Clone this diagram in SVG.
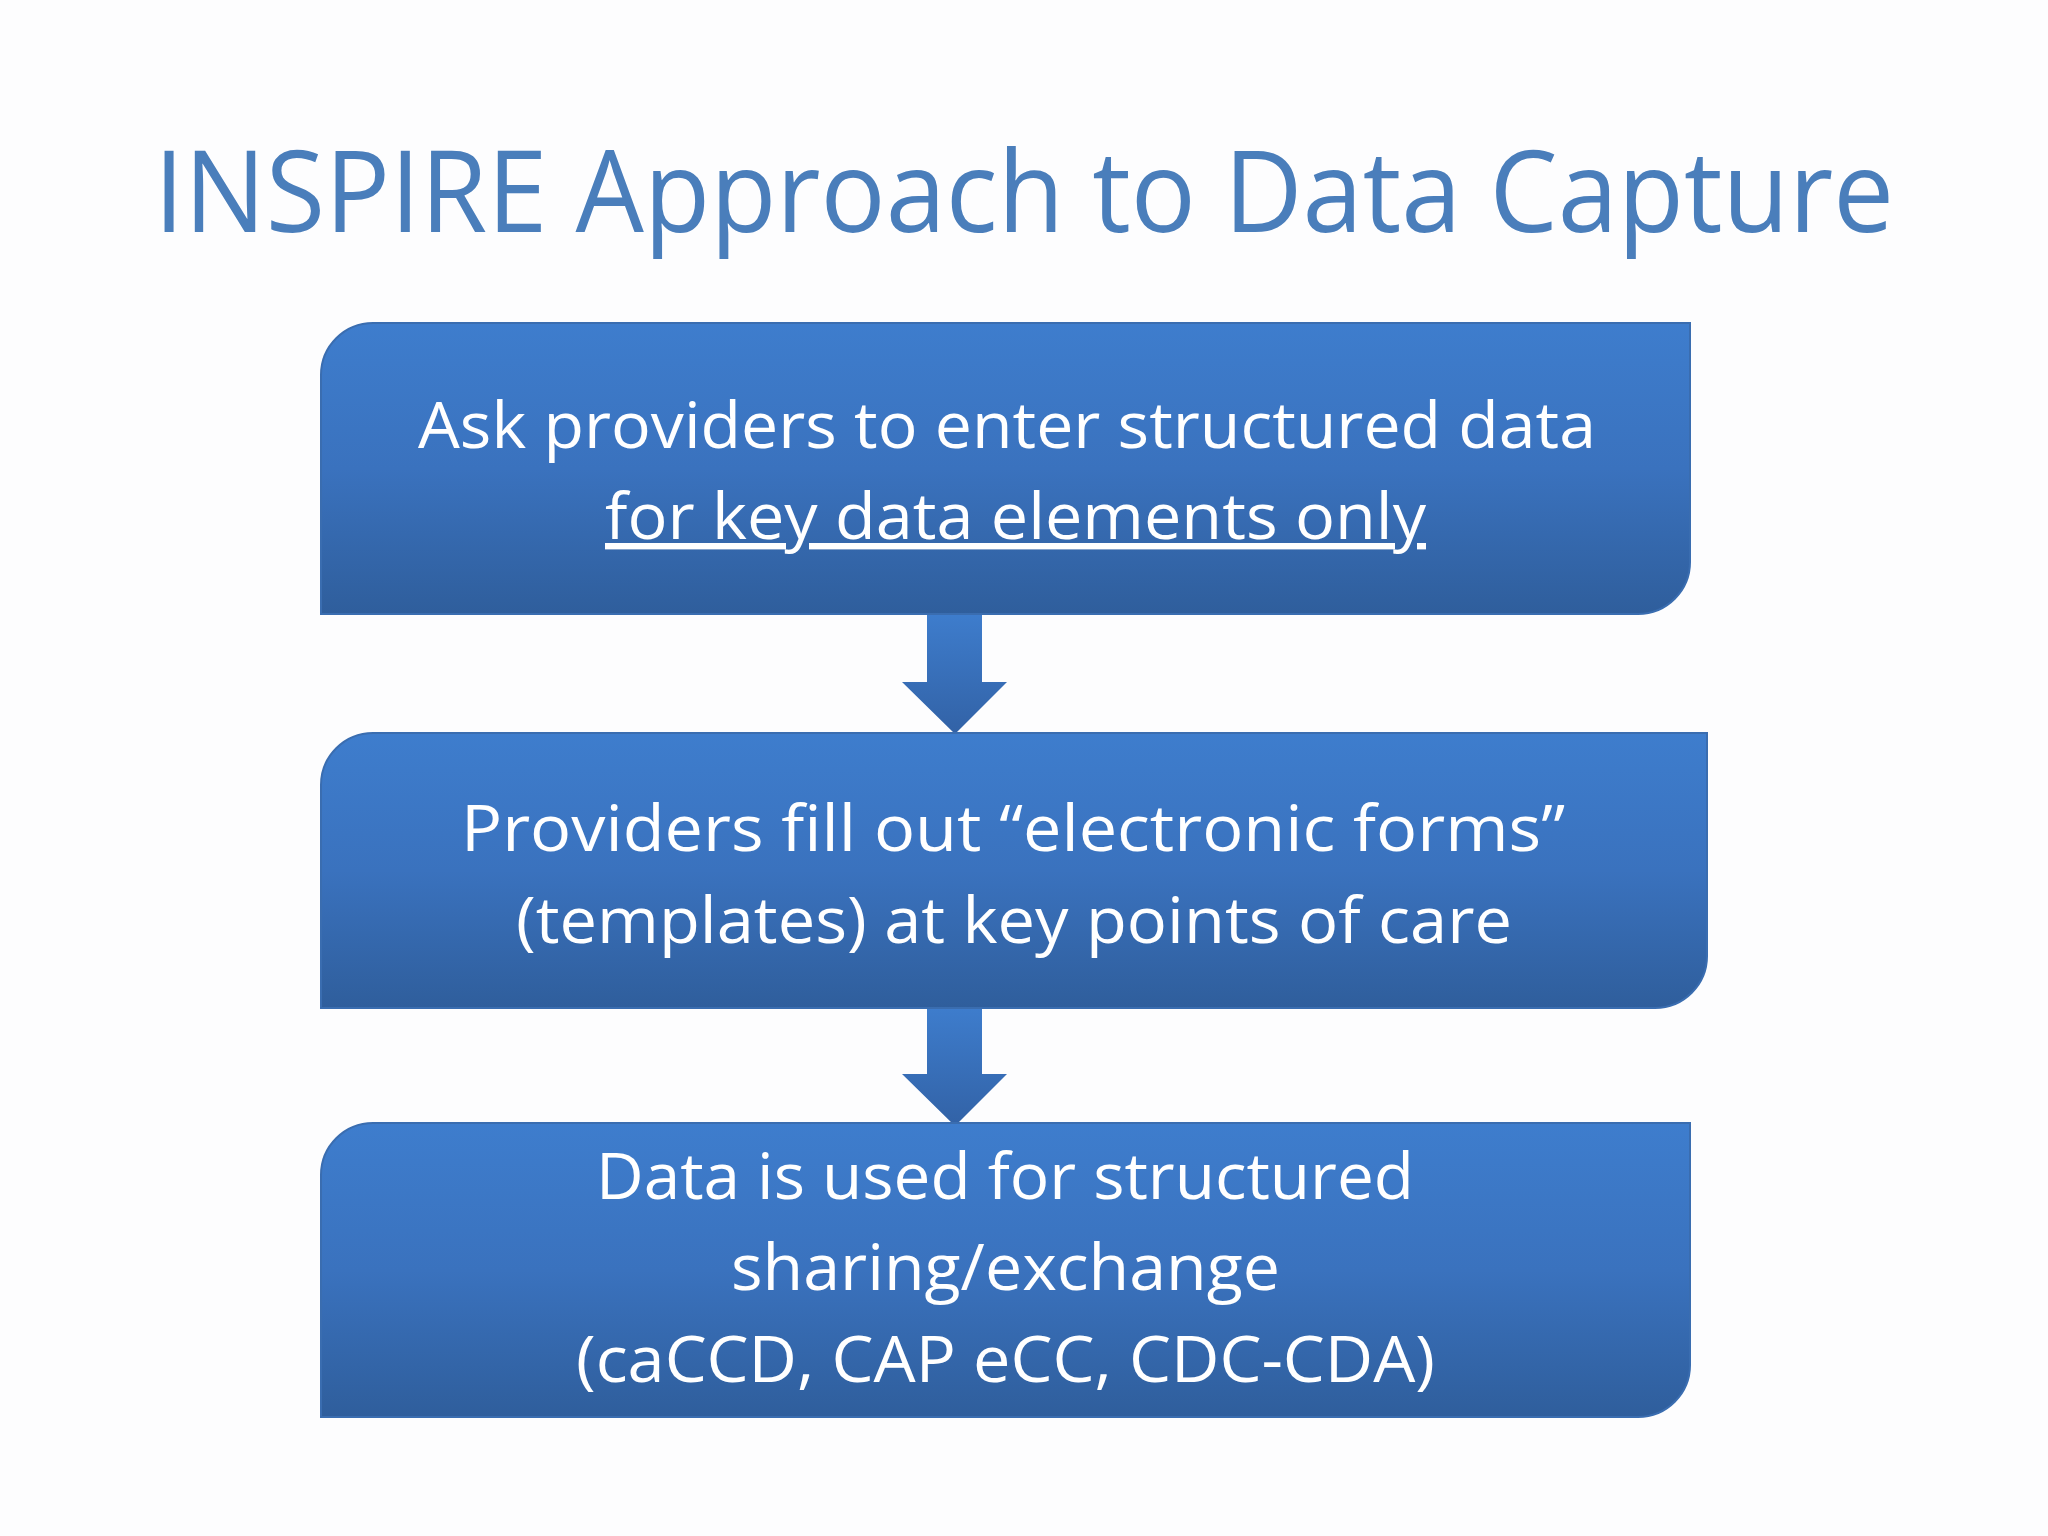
<svg xmlns="http://www.w3.org/2000/svg" width="2048" height="1536" viewBox="0 0 2048 1536">
<defs>
<linearGradient id="g" x1="0" y1="0" x2="0" y2="1"><stop offset="0" stop-color="#3e7dcd"/><stop offset="0.5" stop-color="#3a72be"/><stop offset="1" stop-color="#2f5e9c"/></linearGradient>
<linearGradient id="ga" x1="0" y1="0" x2="0" y2="1"><stop offset="0" stop-color="#3e7dcd"/><stop offset="1" stop-color="#3262a6"/></linearGradient>
<style>
.t{font-family:"Open Sans","Noto Sans",sans-serif;fill:#fff;font-size:64px;text-anchor:start}
.box{fill:url(#g);stroke:#3a6db0;stroke-width:2}
</style>
</defs>
<rect width="2048" height="1536" fill="#fdfdfe"/>
<text x="154" y="232" font-family="'Open Sans','Noto Sans',sans-serif" font-size="114" fill="#4a7ebb" textLength="1740" lengthAdjust="spacingAndGlyphs">INSPIRE Approach to Data Capture</text>
<g id="connectors">
<path d="M927 612 H982 V682 H1007 L955 734 L902 682 H927 Z" fill="url(#ga)"/>
<path d="M927 1006 H982 V1074 H1007 L955 1126 L902 1074 H927 Z" fill="url(#ga)"/>
</g>
<g id="node1">
<path class="box" d="M373 323 H1690 V562 A52 52 0 0 1 1638 614 H321 V375 A52 52 0 0 1 373 323 Z"/>
<text class="t" x="418" y="448" textLength="1178" lengthAdjust="spacingAndGlyphs">Ask providers to enter structured data</text>
<text class="t" x="605" y="539" textLength="821" lengthAdjust="spacingAndGlyphs" text-decoration="underline">for key data elements only</text>
</g>
<g id="node2">
<path class="box" d="M373 733 H1707 V956 A52 52 0 0 1 1655 1008 H321 V785 A52 52 0 0 1 373 733 Z"/>
<text class="t" x="461" y="851" textLength="1104" lengthAdjust="spacingAndGlyphs">Providers fill out “electronic forms”</text>
<text class="t" x="516" y="943" textLength="996" lengthAdjust="spacingAndGlyphs">(templates) at key points of care</text>
</g>
<g id="node3">
<path class="box" d="M373 1123 H1690 V1365 A52 52 0 0 1 1638 1417 H321 V1175 A52 52 0 0 1 373 1123 Z"/>
<text class="t" x="596" y="1199" textLength="818" lengthAdjust="spacingAndGlyphs">Data is used for structured</text>
<text class="t" x="731" y="1290" textLength="549" lengthAdjust="spacingAndGlyphs">sharing/exchange</text>
<text class="t" x="576" y="1382" textLength="859" lengthAdjust="spacingAndGlyphs">(caCCD, CAP eCC, CDC-CDA)</text>
</g>
</svg>
